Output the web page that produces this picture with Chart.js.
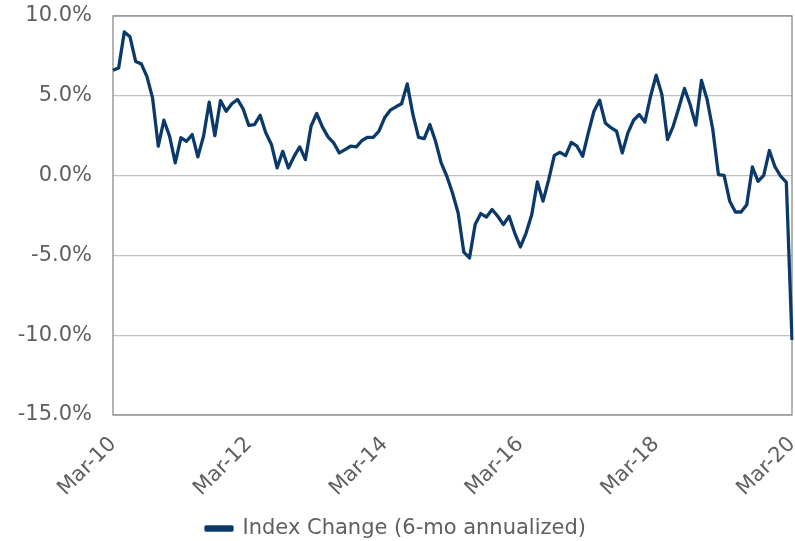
<!DOCTYPE html>
<html>
<head>
<meta charset="utf-8">
<script src="https://cdn.jsdelivr.net/npm/chart.js@4/dist/chart.umd.min.js"></script>
<style>
  html, body { margin: 0; padding: 0; background: #fff; }
  #wrap { width: 795px; height: 541px; }
</style>
</head>
<body>
<div id="wrap"><canvas id="chart"></canvas></div>
<script>
// monthly categories, Mar-10 .. Mar-20
const monthNames = ['Jan', 'Feb', 'Mar', 'Apr', 'May', 'Jun', 'Jul', 'Aug', 'Sep', 'Oct', 'Nov', 'Dec'];
const firstYear = 2010;
const firstMonth = 2; // March
const monthCount = 121;
const labelEvery = 24; // only Mar of even years shown

// 6-month annualized index change, %
const indexChange = [
  6.6, 6.75, 9.0, 8.7, 7.15, 7.0, 6.2, 4.85, 1.85, 3.47,
  2.47, 0.8, 2.37, 2.15, 2.57, 1.17, 2.47, 4.6, 2.5, 4.7,
  4.03, 4.5, 4.77, 4.18, 3.14, 3.2, 3.78, 2.68, 1.95, 0.48,
  1.52, 0.48, 1.2, 1.8, 1.0, 3.09, 3.89, 3.05, 2.43, 2.05,
  1.42, 1.63, 1.84, 1.8, 2.2, 2.4, 2.4, 2.78, 3.62, 4.1,
  4.31, 4.5, 5.75, 3.83, 2.4, 2.32, 3.2, 2.15, 0.8, -0.04,
  -1.09, -2.34, -4.8, -5.16, -3.07, -2.38, -2.6, -2.13, -2.55, -3.07,
  -2.55, -3.6, -4.47, -3.6, -2.45, -0.4, -1.6, -0.25, 1.27, 1.46,
  1.25, 2.08, 1.84, 1.21, 2.68, 4.03, 4.72, 3.3, 3.0, 2.78,
  1.42, 2.68, 3.47, 3.83, 3.35, 4.97, 6.29, 5.08, 2.26, 3.09,
  4.25, 5.46, 4.45, 3.16, 5.96, 4.77, 2.89, 0.06, 0.02, -1.61,
  -2.28, -2.28, -1.82, 0.54, -0.36, 0.02, 1.57, 0.54, -0.04, -0.42,
  -10.3
];

const yMin = -15;
const yMax = 10;
const yStep = 5;

const labels = [];
for (let i = 0; i < monthCount; i++) {
  const m = firstMonth + i;
  const yy = (firstYear + Math.floor(m / 12)) % 100;
  labels.push(monthNames[m % 12] + '-' + String(yy).padStart(2, '0'));
}

const lineColor = '#0b3a6a';
const textColor = '#5f5f5f';
const fontFamily = '"DejaVu Sans", Verdana, sans-serif';

// gray frame round the plot area, drawn under the line
const plotFrame = {
  id: 'plotFrame',
  beforeDatasetsDraw(chart) {
    const { ctx, chartArea: a } = chart;
    ctx.save();
    ctx.strokeStyle = '#8c8c8c';
    ctx.lineWidth = 1.3;
    ctx.strokeRect(a.left, a.top, a.right - a.left, a.bottom - a.top);
    ctx.restore();
  }
};

new Chart(document.getElementById('chart'), {
  type: 'line',
  data: {
    labels,
    datasets: [{
      label: 'Index Change (6-mo annualized)',
      data: indexChange,
      borderColor: lineColor,
      backgroundColor: lineColor,
      borderWidth: 3.3,
      pointRadius: 0,
      tension: 0,
      borderJoinStyle: 'round'
    }]
  },
  options: {
    responsive: true,
    maintainAspectRatio: false,
    animation: false,
    // negative bottom pushes the legend row lower
    layout: { padding: { top: 16, left: 0, right: 3, bottom: -8 } },
    plugins: {
      tooltip: { enabled: false },
      legend: {
        position: 'bottom',
        labels: {
          color: textColor,
          font: { family: fontFamily, size: 21 },
          boxWidth: 26,
          boxHeight: 3,
          padding: 0
        }
      }
    },
    scales: {
      x: {
        offset: false,
        grid: { display: false, drawTicks: false },
        border: { display: false },
        ticks: {
          autoSkip: false,
          maxRotation: 45,
          minRotation: 45,
          padding: 17,
          color: textColor,
          font: { family: fontFamily, size: 21 },
          callback: (v, i) => (i % labelEvery === 0 ? labels[i] : null)
        },
        afterFit: s => {
          s.paddingLeft = 0;
          s.paddingRight = 0;
          s.height = 103;
        }
      },
      y: {
        min: yMin,
        max: yMax,
        grid: { color: '#c0c0c0', lineWidth: 1.3, drawTicks: false },
        border: { display: false },
        ticks: {
          stepSize: yStep,
          padding: 21,
          color: textColor,
          font: { family: fontFamily, size: 21 },
          callback: v => v.toFixed(1) + '%'
        },
        afterFit: s => {
          s.width = 113;
          s.paddingTop = 0;
          s.paddingBottom = 0;
        }
      }
    }
  },
  plugins: [plotFrame]
});
</script>
</body>
</html>
